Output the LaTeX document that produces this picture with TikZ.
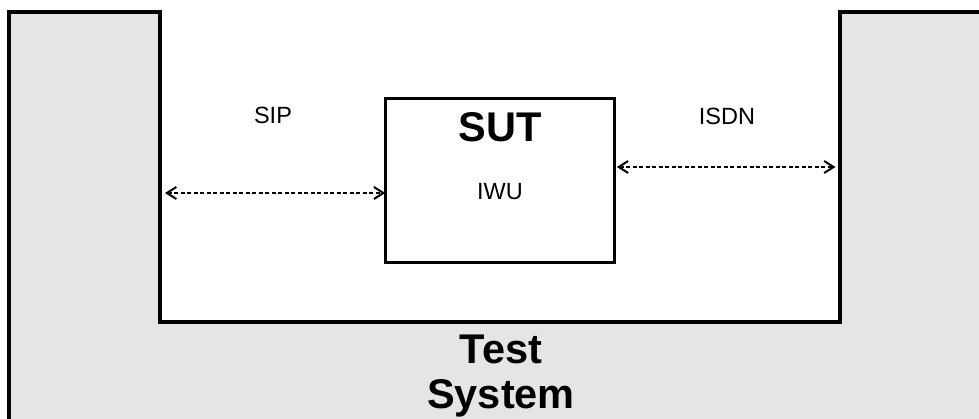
\documentclass[tikz,border=0pt]{standalone}
\usepackage{fontspec}
\setmainfont{Liberation Sans}
\usetikzlibrary{arrows.meta}
\definecolor{sysgray}{HTML}{E5E5E5}
\begin{document}
\begin{tikzpicture}[x=1pt,y=-1pt,
  sysline/.style={line width=4pt, line join=miter},
  sutbox/.style={draw, line width=3pt, outer sep=0pt, inner sep=0pt,
    minimum width=229pt, minimum height=164.5pt},
  lbl/.style={font=\fontsize{23.5}{28}\selectfont, inner sep=0pt, anchor=base},
  biglbl/.style={font=\fontsize{41.5}{43}\selectfont\bfseries, inner sep=0pt, anchor=base},
  link/.style={line width=1.9pt, dash pattern=on 4pt off 2.5pt,
    {Straight Barb[length=9.5pt,width=12pt,line width=2pt]}-{Straight Barb[length=9.5pt,width=12pt,line width=2pt]}}
]
\useasboundingbox (0,0) rectangle (979,419);
\clip (0,0) rectangle (979,419);
\fill[white] (0,0) rectangle (979,419);
% Test system U-shape
\draw[sysline, fill=sysgray] (9,12) -- (160,12) -- (160,322) -- (840,322) -- (840,12)
  -- (1000,12) -- (1000,450) -- (9,450) -- cycle;
% SUT box
\node[sutbox] (sut) at (500.3,180.5) {};
\node[biglbl] (suttxt) at (500,141.7) {SUT};
\node[lbl] (iwu) at (500,200) {IWU};
% labels
\node[lbl] (sip) at (273,124) {SIP};
\node[lbl] (isdn) at (727,124.3) {ISDN};
\node[biglbl] (test) at (501,363.5) {Test};
\node[biglbl] (system) at (501,408.5) {System};
% wall coordinates
\coordinate (sipwall) at (160,193);
\coordinate (isdnwall) at (840,167);
% connectors
\draw[link, shorten <=5pt, shorten >=0.5pt] (sipwall) -- (sipwall -| sut.west);
\draw[link, shorten <=2pt, shorten >=4.5pt] (isdnwall -| sut.east) -- (isdnwall);
\end{tikzpicture}
\end{document}
